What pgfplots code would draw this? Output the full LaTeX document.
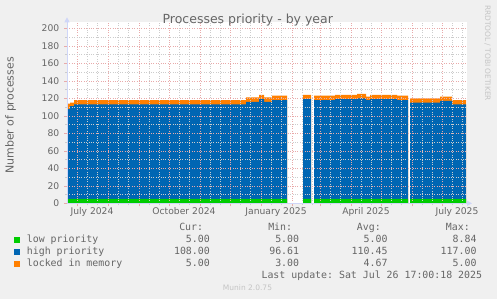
\documentclass[border=0pt]{standalone}
\usepackage{fontspec}
\setmainfont{DejaVu Sans}
\setmonofont{DejaVu Sans Mono}
\usepackage{pgfplots}
\pgfplotsset{compat=1.18}
\usepackage{pgfplotstable}
\usetikzlibrary{arrows.meta}

\definecolor{bg}{HTML}{F0F0F0}
\definecolor{mgreen}{HTML}{00CC00}
\definecolor{mblue}{HTML}{0066B3}
\definecolor{morange}{HTML}{FF8000}
\definecolor{fontc}{HTML}{666666}
\definecolor{axisc}{HTML}{CFD6F8}
\definecolor{mgridc}{HTML}{E8AAAA}
\definecolor{gridc}{HTML}{CCCCCC}
\definecolor{lightc}{HTML}{C4C4C4}

% days relative to 2025-01-01
\pgfplotstableread{
d low high locked
-194 5 103 6
-191 5 106 4
-187 5 108 5
-15 5 111 5
-2 5 114 5
3 5 111 5
11 5 113 5
26 5 113 5
}\segA
\pgfplotstableread{
d low high locked
42 5 114 5
50 5 114 5
}\segB
\pgfplotstableread{
d low high locked
53 5 113 5
74 5 114 5
96 5 115 5
105 5 113 4
109 5 114 5
136 5 113 5
147 5 113 5
}\segC
\pgfplotstableread{
d low high locked
149 5 110 5
179 5 112 5
191 5 108 5
205 5 108 5
}\segD

\newcommand{\seg}[1]{%
\addplot[draw=none, fill=morange, const plot] table[x=d, y expr=\thisrow{low}+\thisrow{high}+\thisrow{locked}] {#1} \closedcycle;
\addplot[draw=none, fill=mblue, const plot] table[x=d, y expr=\thisrow{low}+\thisrow{high}] {#1} \closedcycle;
\addplot[draw=none, fill=mgreen, const plot] table[x=d, y=low] {#1} \closedcycle;
}

\begin{document}
\begin{tikzpicture}
\useasboundingbox (0,0) rectangle (497pt,299pt);
\fill[bg] (0,0) rectangle (497pt,299pt);
\begin{axis}[
  at={(67pt,95.7pt)}, anchor=south west,
  scale only axis, width=400pt, height=181pt,
  xmin=-194, xmax=206, ymin=0, ymax=207,
  axis lines*=left,
  axis line style={draw=axisc, line width=0.8pt, -{Triangle[length=5pt,width=5pt]}, shorten >=-5pt},
  axis background/.style={fill=white},
  axis on top,
  xtick={-184,-153,-122,-92,-61,-31,0,31,59,90,120,151,181},
  xticklabels={},
  minor xtick={-174,-164,-143,-133,-112,-102,-82,-72,-51,-41,-21,-11,10,20,41,51,69,79,100,110,130,140,161,171,191,201},
  extra x ticks={-169,-77,15,105,196},
  extra x tick labels={July 2024,October 2024,January 2025,April 2025,July 2025},
  extra x tick style={grid=none, major tick length=0pt},
  ytick={0,20,...,200},
  minor ytick={10,30,...,190},
  xmajorgrids, xminorgrids, ymajorgrids, yminorgrids,
  major grid style={mgridc, dotted, line width=0.5pt},
  minor grid style={gridc, dotted, line width=0.5pt},
  tick align=outside,
  major tick length=3pt, minor tick length=2pt,
  major tick style={mgridc, line width=0.6pt},
  minor tick style={gridc, line width=0.6pt},
  ticklabel style={font=\fontsize{9.2}{11}\selectfont, text=fontc},
  /pgf/number format/assume math mode=true,
  yticklabel style={inner sep=0pt, xshift=-4.5pt},
  xticklabel style={inner sep=0pt, yshift=-4.5pt},
]
\seg{\segA}
\seg{\segB}
\seg{\segC}
\seg{\segD}
\end{axis}
\begin{scope}[x=1pt, y=-1pt, yshift=299pt]
\node[anchor=base, inner sep=0pt, text=fontc, font=\fontsize{12.5}{14}\selectfont] at (247.8,24) {Processes priority - by year};
\node[rotate=90, inner sep=0pt, text=fontc, font=\fontsize{11}{13}\selectfont] at (10.5,115.5) {Number of processes};
\node[rotate=-90, inner sep=0pt, text=lightc, font=\fontsize{7.45}{9}\selectfont] at (487.5,53) {RRDTOOL / TOBI OETIKER};
% legend
\fill[mgreen] (14,237.3) rectangle (20,243.3);
\fill[mblue] (14,249.3) rectangle (20,255.3);
\fill[morange] (14,261.3) rectangle (20,267.3);
\begin{scope}[every node/.style={inner sep=0pt, text=fontc, font=\fontsize{9.9}{12}\ttfamily}]
\node[anchor=base west] at (26.7,242.8) {low priority};
\node[anchor=base west] at (26.7,254.8) {high priority};
\node[anchor=base west] at (26.7,266.8) {locked in memory};
\node[anchor=base east] at (203.3,231) {Cur:};
\node[anchor=base east] at (292.3,231) {Min:};
\node[anchor=base east] at (381,231) {Avg:};
\node[anchor=base east] at (470,231) {Max:};
\node[anchor=base east] at (210,242.8) {5.00};
\node[anchor=base east] at (299.3,242.8) {5.00};
\node[anchor=base east] at (387.7,242.8) {5.00};
\node[anchor=base east] at (476.7,242.8) {8.84};
\node[anchor=base east] at (210,254.8) {108.00};
\node[anchor=base east] at (299.3,254.8) {96.61};
\node[anchor=base east] at (387.7,254.8) {110.45};
\node[anchor=base east] at (476.7,254.8) {117.00};
\node[anchor=base east] at (210,266.8) {5.00};
\node[anchor=base east] at (299.3,266.8) {3.00};
\node[anchor=base east] at (387.7,266.8) {4.67};
\node[anchor=base east] at (476.7,266.8) {5.00};
\node[anchor=base east] at (482.3,278.7) {Last update: Sat Jul 26 17:00:18 2025};
\end{scope}
\node[anchor=base, inner sep=0pt, text=lightc, font=\fontsize{7.5}{9}\selectfont] at (247.5,290.7) {Munin 2.0.75};
\end{scope}
\end{tikzpicture}
\end{document}
